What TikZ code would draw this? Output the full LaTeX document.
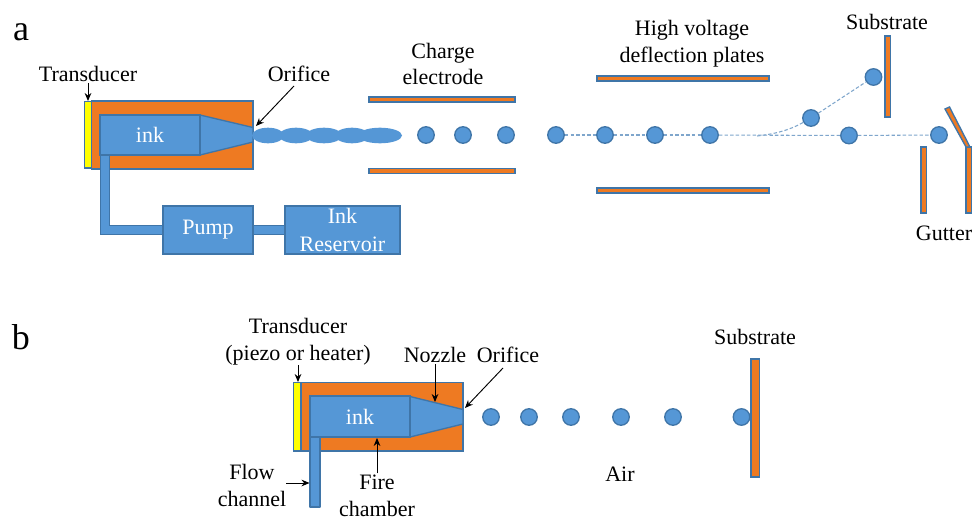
\documentclass[tikz,border=0pt]{standalone}
\usepackage{fontspec}
\setmainfont{Liberation Serif}
\usetikzlibrary{arrows.meta}
\definecolor{inkblue}{HTML}{5597D6}
\definecolor{edge}{HTML}{3F75A8}
\definecolor{orng}{HTML}{EE7A22}
\definecolor{yel}{HTML}{FFFF00}
\definecolor{dashc}{HTML}{7FA6CC}
\newlength{\pxu}\setlength{\pxu}{0.75pt}
\tikzset{
  x=0.75pt,y=-0.75pt,
  lbl/.style={font=\fontsize{16.5}{20.2}\selectfont,align=center,inner sep=0pt,text=black},
  big/.style={font=\fontsize{27}{30}\selectfont,inner sep=0pt,text=black},
  bluebox/.style={draw=edge,fill=inkblue,line width=1.1pt,inner sep=0pt,text=white,align=center,
    font=\fontsize{16.5}{20.2}\selectfont},
  orangeshape/.style={draw=edge,fill=orng,line width=1pt},
  yellowshape/.style={draw=edge,fill=yel,line width=1pt},
  blueshape/.style={draw=edge,fill=inkblue,line width=1pt,line join=round},
  plate/.style={draw=edge,fill=orng,line width=1pt},
  drop/.style={circle,draw=edge,fill=inkblue,line width=1pt,inner sep=0pt,minimum size=16.5\pxu},
  lobe/.style={fill=inkblue,draw=none},
  pipe/.style={draw=edge,line width=0.9pt,double=inkblue,double distance=8.2\pxu,line join=miter},
  traj/.style={draw=dashc,line width=0.8pt,dash pattern=on 2.6pt off 1.6pt},
  callout/.style={-{Stealth[length=6pt,width=5pt]},black,line width=0.7pt},
}
\begin{document}
\begin{tikzpicture}
\useasboundingbox (0,0) rectangle (972,521);
\fill[white] (0,0) rectangle (972,521);
% ---------- panel a
\node[big] (la) at (21,32) {a};
\draw[orangeshape] (91.5,101) rectangle (253,169);
\draw[yellowshape] (84.5,101.5) rectangle (91.5,168);
\node[lbl] (ltr) at (88,74) {Transducer};
\node[lbl] (lor) at (299,74) {Orifice};
\coordinate (ta) at (88,101);
\coordinate (oa) at (256,126);
\draw[callout] (ltr.south) ++(0,1) -- (ta);
\draw[callout] (294,86) -- (oa);
% pipes
\node[bluebox,minimum width=90\pxu,minimum height=48\pxu] (pump) at (208,230) {Pump};
\node[bluebox,minimum width=115\pxu,minimum height=48\pxu] (res) at (342.5,230) {Ink\\[1pt]Reservoir};
\coordinate (cha) at (105,155);
\draw[pipe] (cha) |- (pump.west);
\draw[pipe] (pump.east) -- (res.west);
% ink
\draw[blueshape] (200,115) -- (253,127.5) -- (253,142) -- (200,155) -- cycle;
\node[bluebox,minimum width=100\pxu,minimum height=40\pxu] (inka) at (150,135) {ink};
% jet
\foreach \cx/\rx in {268/16,296/17,324/18,352/17,380/22}
  \fill[lobe] (\cx,135.5) ellipse[x radius=\rx,y radius=7.8];
% charge plates
\draw[plate] (369,97) rectangle (515,102);
\draw[plate] (369,168.5) rectangle (515,173.5);
\node[lbl] (lce) at (443,64) {Charge\\electrode};
% deflection plates
\draw[plate] (597,76) rectangle (769,81);
\draw[plate] (597,188) rectangle (769,193);
\node[lbl] (lhv) at (692,43.5) {High voltage\\deflection plates};
% drops
\foreach \n/\cx in {a1/426,a2/463,a3/506,a4/556}
  \node[drop] (\n) at (\cx,135) {};
\coordinate (tstart) at (565,135.5);
\coordinate (tsplit) at (757,136);
\node[drop] (a5) at (605,135) {};
\node[drop] (a6) at (655,135) {};
\node[drop] (a7) at (710,135) {};
\node[drop] (a8) at (849,135.5) {};
\node[drop] (a9) at (939,135) {};
\node[drop] (u1) at (811,118) {};
\node[drop] (u2) at (873.5,77) {};
\draw[traj] (a4) -- (a5);
\draw[traj] (a5) -- (a6);
\draw[traj] (a6) -- (a7);
\draw[traj] (a7) -- (a8);
\draw[traj] (a8) -- (a9);
\draw[traj] (tsplit) .. controls (775,134) and (790,130) .. (u1);
\draw[traj] (u1) -- (u2);
% substrate & gutter
\draw[plate] (885,36) rectangle (890.5,117);
\draw[plate] (921,147) rectangle (926.5,213);
\draw[plate] (966,147) rectangle (971.5,213);
\draw[plate] (945,109) -- (949.5,107) -- (970,147) -- (966,147) -- cycle;
\node[lbl] (lsa) at (887,22) {Substrate};
\node[lbl] (lgu) at (944,233) {Gutter};
% ---------- panel b
\node[big] (lb) at (21,337) {b};
\draw[orangeshape] (301,382.5) rectangle (463,451);
\draw[yellowshape] (293.5,382.5) rectangle (301,451);
\draw[blueshape] (410,396.5) -- (463,409.5) -- (463,424) -- (410,437) -- cycle;
\draw[blueshape] (310,437) rectangle (320,507);
\node[bluebox,minimum width=100\pxu,minimum height=41\pxu] (inkb) at (360,416.5) {ink};
\foreach \n/\cx in {b1/491,b2/529,b3/571,b4/621,b5/673}
  \node[drop] (\n) at (\cx,417) {};
\draw[plate] (751,359) rectangle (759.5,477);
\node[drop] (b6) at (741.5,417) {};
\node[lbl] (ltb) at (298,341.5) {Transducer\\(piezo or heater)};
\node[lbl] (lnz) at (435,355) {Nozzle};
\node[lbl] (lob) at (508,355) {Orifice};
\node[lbl] (lsb) at (755,337) {Substrate};
\node[lbl] (lair) at (620,474) {Air};
\node[lbl] (lfl) at (252,485.5) {Flow\\channel};
\node[lbl] (lfi) at (377,495.5) {Fire\\chamber};
\coordinate (tb) at (298,382);
\coordinate (nb) at (435,402);
\coordinate (ob) at (465,408);
\coordinate (fb) at (377,438);
\coordinate (cb) at (309.5,483);
\draw[callout] (ltb.south) -- (tb);
\draw[callout] (lnz.south) ++(0,1) -- (nb);
\draw[callout] (503,368) -- (ob);
\draw[callout] (lfi.north) ++(0,-1) -- (fb);
\draw[callout] (286,483) -- (cb);
\end{tikzpicture}
\end{document}
